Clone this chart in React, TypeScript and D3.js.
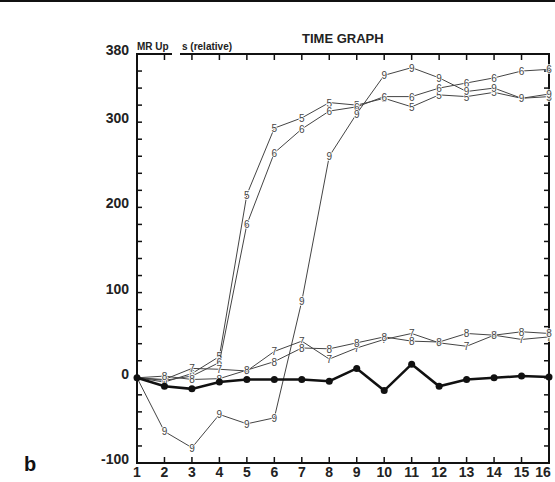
import * as d3 from "d3";
import React from "react";

// time points 1..16
const timePoints = [1, 2, 3, 4, 5, 6, 7, 8, 9, 10, 11, 12, 13, 14, 15, 16];

// numbered curves
const series5 = [0, -5, 5, 25, 215, 293, 305, 323, 320, 328, 318, 332, 330, 335, 328, 330];
const series6 = [0, -3, 2, 18, 180, 264, 292, 313, 318, 330, 330, 340, 346, 352, 360, 362];
const series9 = [0, -63, -82, -43, -54, -47, 90, 260, 310, 355, 364, 352, 336, 340, 328, 333];
const series7 = [0, -2, 11, 10, 8, 31, 43, 22, 35, 45, 52, 41, 37, 50, 45, 48];
const series8 = [0, 2, -2, -1, 9, 19, 35, 34, 41, 48, 43, 42, 52, 50, 54, 52];
// reference curve (filled dots)
const baseline = [0, -10, -13, -5, -2, -2, -2, -4, 11, -15, 16, -10, -2, 0, 2, 1];

const yTickLabels = [380, 300, 200, 100, 0, -100];

const numbered = [
  { label: "5", values: series5 },
  { label: "6", values: series6 },
  { label: "9", values: series9 },
  { label: "7", values: series7 },
  { label: "8", values: series8 },
];

const W = 555;
const H = 482;
const left = 137;
const right = 549;
const top = 54;
const bottom = 463;

const App = () => {
  const x = d3.scaleLinear().domain([1, 16]).range([left, right]);
  const y = d3.scaleLinear().domain([-100, 380]).range([bottom, top]);

  const line = d3
    .line<number>()
    .x((_, i) => x(timePoints[i]))
    .y((d) => y(d));

  const minorTicks = d3.range(-100, 381, 20);
  const font = "'Liberation Sans', Arial, sans-serif";

  return (
    <svg
      width={W}
      height={H}
      style={{ position: "absolute", left: 0, top: 0, background: "#fff" }}
    >
      <rect x={0} y={0} width={W} height={2} fill="#111" />

      {/* frame */}
      <line x1={left} x2={left} y1={top} y2={bottom} stroke="#111" strokeWidth={2} />
      <line x1={right} x2={right} y1={top} y2={bottom} stroke="#111" strokeWidth={2} />
      <line x1={left - 1} x2={right + 1} y1={bottom} y2={bottom} stroke="#111" strokeWidth={2} />
      <line x1={left - 1} x2={172} y1={top} y2={top} stroke="#111" strokeWidth={2} />
      <line x1={180} x2={right + 1} y1={top} y2={top} stroke="#111" strokeWidth={2} />

      {/* y ticks, both sides, inward */}
      {minorTicks.map((t) => (
        <g key={t}>
          <line x1={left} x2={left + 5} y1={y(t)} y2={y(t)} stroke="#111" strokeWidth={1.5} />
          <line x1={right - 5} x2={right} y1={y(t)} y2={y(t)} stroke="#111" strokeWidth={1.5} />
        </g>
      ))}
      {yTickLabels.map((t) => (
        <text
          key={t}
          x={129}
          y={y(t) + 1}
          textAnchor="end"
          fontFamily={font}
          fontWeight="bold"
          fontSize={14}
          fill="#222"
        >
          {t}
        </text>
      ))}

      {/* x ticks, top and bottom, inward */}
      {timePoints.map((t) => (
        <g key={t}>
          <line x1={x(t)} x2={x(t)} y1={bottom} y2={bottom - 6} stroke="#111" strokeWidth={1.5} />
          <line x1={x(t)} x2={x(t)} y1={top} y2={top + 6} stroke="#111" strokeWidth={1.5} />
          <text
            x={Math.min(x(t), 543)}
            y={477}
            textAnchor="middle"
            fontFamily={font}
            fontWeight="bold"
            fontSize={14}
            fill="#222"
          >
            {t}
          </text>
        </g>
      ))}

      {/* titles */}
      <text x={302} y={43} fontFamily={font} fontWeight="bold" fontSize={13} fill="#222">
        TIME GRAPH
      </text>
      <text x={137} y={50} fontFamily={font} fontWeight="bold" fontSize={10} fill="#222">
        MR Up
      </text>
      <text x={182} y={50} fontFamily={font} fontWeight="bold" fontSize={10} fill="#222">
        s (relative)
      </text>
      <text x={24} y={471} fontFamily={font} fontWeight="bold" fontSize={20} fill="#111">
        b
      </text>

      {/* numbered curves */}
      {numbered.map((s) => (
        <g key={s.label}>
          <path d={line(s.values) ?? ""} fill="none" stroke="#444" strokeWidth={1} />
          {s.values.slice(1).map((v, i) => (
            <text
              key={i}
              x={x(timePoints[i + 1])}
              y={y(v) + 4}
              textAnchor="middle"
              fontFamily={font}
              fontSize={10}
              fill="#444"
              stroke="#fff"
              strokeWidth={1.5}
              paintOrder="stroke"
            >
              {s.label}
            </text>
          ))}
        </g>
      ))}

      {/* reference curve */}
      <path d={line(baseline) ?? ""} fill="none" stroke="#111" strokeWidth={2.5} />
      {baseline.map((v, i) => (
        <circle key={i} cx={x(timePoints[i])} cy={y(v)} r={3.5} fill="#111" />
      ))}
    </svg>
  );
};

export default App;
